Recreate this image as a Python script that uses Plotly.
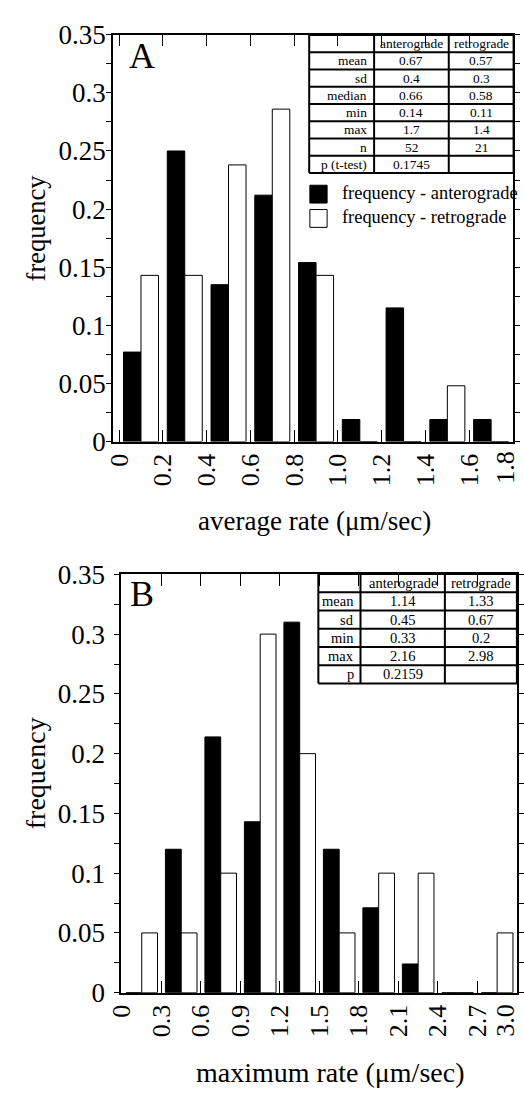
import plotly.graph_objects as go

# ---------------- data ----------------
A_bins = [0.1, 0.3, 0.5, 0.7, 0.9, 1.1, 1.3, 1.5, 1.7]
A_antero = [0.077, 0.25, 0.135, 0.212, 0.154, 0.019, 0.115, 0.019, 0.019]
A_retro = [0.143, 0.143, 0.238, 0.286, 0.143, 0.0, 0.0, 0.048, 0.0]
A_xticks = [0, 0.2, 0.4, 0.6, 0.8, 1.0, 1.2, 1.4, 1.6, 1.8]
A_xticktext = ["0", "0.2", "0.4", "0.6", "0.8", "1.0", "1.2", "1.4", "1.6", "1.8"]

B_bins = [0.15, 0.45, 0.75, 1.05, 1.35, 1.65, 1.95, 2.25, 2.55, 2.85]
B_antero = [0.0, 0.12, 0.214, 0.143, 0.31, 0.12, 0.071, 0.024, 0.0, 0.0]
B_retro = [0.05, 0.05, 0.1, 0.3, 0.2, 0.05, 0.1, 0.1, 0.0, 0.05]
B_xticks = [0, 0.3, 0.6, 0.9, 1.2, 1.5, 1.8, 2.1, 2.4, 2.7, 3.0]
B_xticktext = ["0", "0.3", "0.6", "0.9", "1.2", "1.5", "1.8", "2.1", "2.4", "2.7", "3.0"]

y_max = 0.35
y_step = 0.05
y_minor_step = 0.025

A_tab_rows = ["", "mean", "sd", "median", "min", "max", "n", "p (t-test)"]
A_tab_antero = ["anterograde", "0.67", "0.4", "0.66", "0.14", "1.7", "52", "0.1745"]
A_tab_retro = ["retrograde", "0.57", "0.3", "0.58", "0.11", "1.4", "21", ""]

B_tab_rows = ["", "mean", "sd", "min", "max", "p"]
B_tab_antero = ["anterograde", "1.14", "0.45", "0.33", "2.16", "0.2159"]
B_tab_retro = ["retrograde", "1.33", "0.67", "0.2", "2.98", ""]

legend_names = ["frequency - anterograde", "frequency - retrograde"]

# ---------------- helpers ----------------
W, H = 524, 1103
FONT = "Liberation Serif"


def px(x):
    return x / W


def py(y):
    return 1 - y / H


fig = go.Figure()

# bars panel A
fig.add_trace(go.Bar(x=A_bins, y=A_antero, width=0.08, offset=-0.08,
                     marker=dict(color="black", line=dict(color="black", width=1)),
                     xaxis="x", yaxis="y", showlegend=False))
fig.add_trace(go.Bar(x=A_bins, y=A_retro, width=0.08, offset=0.0,
                     marker=dict(color="white", line=dict(color="black", width=1)),
                     xaxis="x", yaxis="y", showlegend=False))
# bars panel B
fig.add_trace(go.Bar(x=B_bins, y=B_antero, width=0.12, offset=-0.12,
                     marker=dict(color="black", line=dict(color="black", width=1)),
                     xaxis="x2", yaxis="y2", showlegend=False))
fig.add_trace(go.Bar(x=B_bins, y=B_retro, width=0.12, offset=0.0,
                     marker=dict(color="white", line=dict(color="black", width=1)),
                     xaxis="x2", yaxis="y2", showlegend=False))

# panel pixel boxes
A_box = dict(l=101.7, r=512.7, t=20.3, b=438.5)
B_box = dict(l=110.0, r=516.7, t=575.0, b=1005.0)

xcommon = dict(showline=True, linecolor="black", linewidth=1.5, mirror="allticks",
               ticks="inside", ticklen=12, tickwidth=1, tickcolor="black",
               tickangle=-90, showgrid=False, zeroline=False,
               tickfont=dict(family=FONT, size=26, color="black"))
ycommon = dict(showline=True, linecolor="black", linewidth=1.5, mirror="allticks",
               ticks="outside", ticklen=5, tickwidth=1.2, tickcolor="black",
               range=[0, y_max], tickmode="linear", tick0=0, dtick=y_step,
               showgrid=False, zeroline=False,
               minor=dict(tickmode="linear", tick0=0, dtick=y_minor_step,
                          ticks="outside", ticklen=5,
                          tickwidth=1.2, tickcolor="black", showgrid=False),
               tickfont=dict(family=FONT, size=27, color="black"))

fig.update_layout(
    width=W, height=H, margin=dict(l=0, r=0, t=0, b=0),
    paper_bgcolor="white", plot_bgcolor="white",
    barmode="overlay",
    xaxis=dict(xcommon, domain=[px(A_box["l"]), px(A_box["r"])], anchor="y",
               range=[-0.028, 1.8], tickvals=A_xticks, ticktext=A_xticktext),
    yaxis=dict(ycommon, domain=[py(A_box["b"]), py(A_box["t"])], anchor="x",
               ticklabelstandoff=-5),
    xaxis2=dict(xcommon, domain=[px(B_box["l"]), px(B_box["r"])], anchor="y2",
                range=[-0.007, 3.0], tickvals=B_xticks, ticktext=B_xticktext),
    yaxis2=dict(ycommon, domain=[py(B_box["b"]), py(B_box["t"])], anchor="x2",
                ticklabelstandoff=4),
)

annotations = []
shapes = []


def text(x, y, s, size, xanchor="center", angle=0):
    annotations.append(dict(x=px(x), y=py(y), xref="paper", yref="paper",
                            text=s, showarrow=False, xanchor=xanchor, yanchor="middle",
                            textangle=angle,
                            font=dict(family=FONT, size=size, color="black")))


# last x tick label of each panel sits on the page edge (plotly would hide it),
# so draw it as a rotated annotation at the axis end, nudged inside the page
for xref, val, lab, top, shift in [("x", A_xticks[-1], A_xticktext[-1], A_box["b"] + 9, -7),
                                    ("x2", B_xticks[-1], B_xticktext[-1], B_box["b"] + 10, -11)]:
    annotations.append(dict(x=val, xref=xref, y=py(top), yref="paper",
                            text=lab, showarrow=False, textangle=-90,
                            xanchor="center", yanchor="top", xshift=shift,
                            borderpad=0,
                            font=dict(family=FONT, size=26, color="black")))

# panel letters
text(131, 42, "A", 36)
text(132, 595, "B", 36)

# axis titles
text(23, 219, "frequency", 26.5, angle=-90)
text(22, 779, "frequency", 28, angle=-90)
text(309, 520, "average rate (μm/sec)", 27)
text(325, 1087, "maximum rate (μm/sec)", 28)


def table(cols, row_top, row_bot, rows, antero, retro, size, pad):
    n = len(rows)
    rh = (row_bot - row_top) / n
    for i in range(n + 1):
        yy = row_top + i * rh
        shapes.append(dict(type="line", xref="paper", yref="paper",
                           x0=px(cols[0]), x1=px(cols[-1]), y0=py(yy), y1=py(yy),
                           line=dict(color="black", width=2)))
    for c in cols:
        shapes.append(dict(type="line", xref="paper", yref="paper",
                           x0=px(c), x1=px(c), y0=py(row_top), y1=py(row_bot),
                           line=dict(color="black", width=2)))
    for i in range(n):
        yc = row_top + (i + 0.5) * rh
        if rows[i]:
            text(cols[1] - pad, yc, rows[i], size, xanchor="right")
        if antero[i]:
            text((cols[1] + cols[2]) / 2, yc, antero[i], size)
        if retro[i]:
            text((cols[2] + cols[3]) / 2, yc, retro[i], size)


table([303.3, 370.0, 446.7, 513.3], 20.5, 162.3,
      A_tab_rows, A_tab_antero, A_tab_retro, 13.4, 5)
table([312.7, 356.0, 442.7, 516.7], 574.6, 687.1,
      B_tab_rows, B_tab_antero, B_tab_retro, 14.5, 5)

# legend in panel A
leg_fill = ["black", "white"]
leg_top = [175.0, 200.0]
for name, fill, t in zip(legend_names, leg_fill, leg_top):
    shapes.append(dict(type="rect", xref="paper", yref="paper",
                       x0=px(304), x1=px(321.7), y0=py(t), y1=py(t + 18.3),
                       fillcolor=fill, line=dict(color="black", width=1)))
    text(335, t + 7.5, name, 18.4, xanchor="left")

fig.update_layout(annotations=annotations, shapes=shapes)
fig.write_html("out.html")
